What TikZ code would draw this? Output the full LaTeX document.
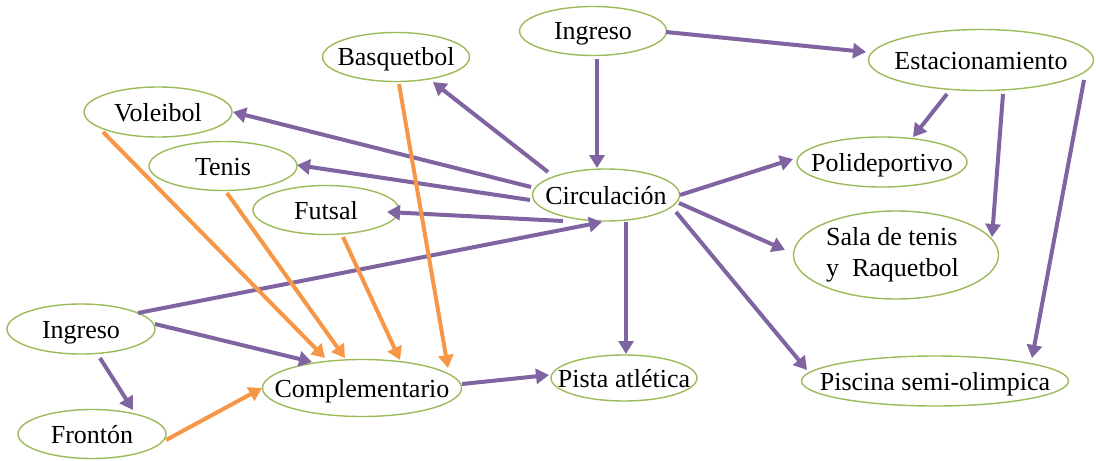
\documentclass[tikz,border=0pt]{standalone}
\usepackage{fontspec}
\setmainfont{Liberation Serif}
\newfontfamily\timesfont{Liberation Serif}
\usetikzlibrary{arrows.meta,shapes.geometric}
\definecolor{purp}{HTML}{8064A2}
\definecolor{orng}{HTML}{F79646}
\definecolor{grn}{HTML}{9BBB59}
\begin{document}
\begin{tikzpicture}[x=0.5pt,y=-0.5pt,
  ellbase/.style={ellipse,draw=grn,line width=0.7pt,inner sep=0pt,
    font=\timesfont\fontsize{13}{15.5}\selectfont},
  ell/.style={ellbase,text height=9pt,text depth=0pt},
  parr/.style={draw=purp,line width=2pt,-{Triangle[length=6.5pt,width=7.5pt]}},
  oarr/.style={draw=orng,line width=2pt,-{Triangle[length=6.5pt,width=7.5pt]}}]
\useasboundingbox (0,0) rectangle (1096,460);
% nodes
\node[ell,minimum width=73.5pt,minimum height=24.5pt] (ing1) at (593,31) {\makebox[0pt]{Ingreso}};
\node[ell,minimum width=112.5pt,minimum height=30.5pt] (est) at (981,60) {\makebox[0pt]{Estacionamiento}};
\node[ell,minimum width=73.5pt,minimum height=24.5pt] (bas) at (396,57) {\makebox[0pt]{Basquetbol}};
\node[ell,minimum width=74pt,minimum height=25pt] (vol) at (158,112) {\makebox[0pt]{Voleibol}};
\node[ell,minimum width=74pt,minimum height=24.5pt] (ten) at (223,166) {\makebox[0pt]{Tenis}};
\node[ell,minimum width=73pt,minimum height=24.5pt] (fut) at (326,210) {\makebox[0pt]{Futsal}};
\node[ell,minimum width=73.5pt,minimum height=26pt] (cir) at (606,195) {\makebox[0pt]{Circulación}};
\node[ell,minimum width=85pt,minimum height=25pt] (pol) at (882,162) {\makebox[0pt]{Polideportivo}};
\node[ellbase,minimum width=102.5pt,minimum height=44pt] (sal) at (896,255)
  {\makebox[0pt]{\kern-3.5pt\begin{tabular}{@{}l@{}}Sala de tenis\\y\ \ Raquetbol\end{tabular}}};
\node[ell,minimum width=74pt,minimum height=25pt] (ing2) at (81,329) {\makebox[0pt]{Ingreso}};
\node[ell,minimum width=74pt,minimum height=24.5pt] (fro) at (92,434) {\makebox[0pt]{Frontón}};
\node[ell,minimum width=99.5pt,minimum height=28.5pt] (com) at (362,388) {\makebox[0pt]{Complementario}};
\node[ell,minimum width=73pt,minimum height=23pt] (pis) at (624,378) {\makebox[0pt]{Pista atlética}};
\node[ell,minimum width=133.5pt,minimum height=25pt] (pisc) at (935,381) {\makebox[0pt]{Piscina semi-olimpica}};
% purple connectors
\draw[parr] ([shift={(73,1)}]ing1.center) -- ([shift={(-115,-8)}]est.center);
\draw[parr] ([shift={(4,28)}]ing1.center) -- ([shift={(-9,-27)}]cir.center);
\draw[parr] ([shift={(-34,34)}]est.center) -- ([shift={(31,-25)}]pol.center);
\draw[parr] ([shift={(22,34)}]est.center) -- ([shift={(96,-18)}]sal.center);
\draw[parr] ([shift={(103,20)}]est.center) -- ([shift={(97,-23)}]pisc.center);
\draw[parr] ([shift={(-58,-23)}]cir.center) -- ([shift={(37,25)}]bas.center);
\draw[parr] ([shift={(-75,-8)}]cir.center) -- ([shift={(75,0)}]vol.center);
\draw[parr] ([shift={(-76,5)}]cir.center) -- ([shift={(74,-1)}]ten.center);
\draw[parr] ([shift={(-43,26)}]cir.center) -- ([shift={(61,2)}]fut.center);
\draw[parr] ([shift={(74,0)}]cir.center) -- ([shift={(-89,-3)}]pol.center);
\draw[parr] ([shift={(73,8)}]cir.center) -- ([shift={(-111,-5)}]sal.center);
\draw[parr] ([shift={(20,27)}]cir.center) -- ([shift={(2,-24)}]pis.center);
\draw[parr] ([shift={(70,17)}]cir.center) -- ([shift={(-128,-11)}]pisc.center);
\draw[parr] ([shift={(57,-16)}]ing2.center) -- ([shift={(-4,27)}]cir.center);
\draw[parr] ([shift={(74,-5)}]ing2.center) -- ([shift={(-50,-26)}]com.center);
\draw[parr] ([shift={(19,29)}]ing2.center) -- ([shift={(41,-24)}]fro.center);
\draw[parr] ([shift={(100,-4)}]com.center) -- ([shift={(-75,-3)}]pis.center);
% orange connectors
\draw[oarr] ([shift={(-55,20)}]vol.center) -- ([shift={(-37,-30)}]com.center);
\draw[oarr] ([shift={(4,27)}]ten.center) -- ([shift={(-17,-30)}]com.center);
\draw[oarr] ([shift={(17,27)}]fut.center) -- ([shift={(38,-28)}]com.center);
\draw[oarr] ([shift={(3,27)}]bas.center) -- ([shift={(86,-20)}]com.center);
\draw[oarr] ([shift={(74,6)}]fro.center) -- ([shift={(-100,0)}]com.center);
\end{tikzpicture}
\end{document}
